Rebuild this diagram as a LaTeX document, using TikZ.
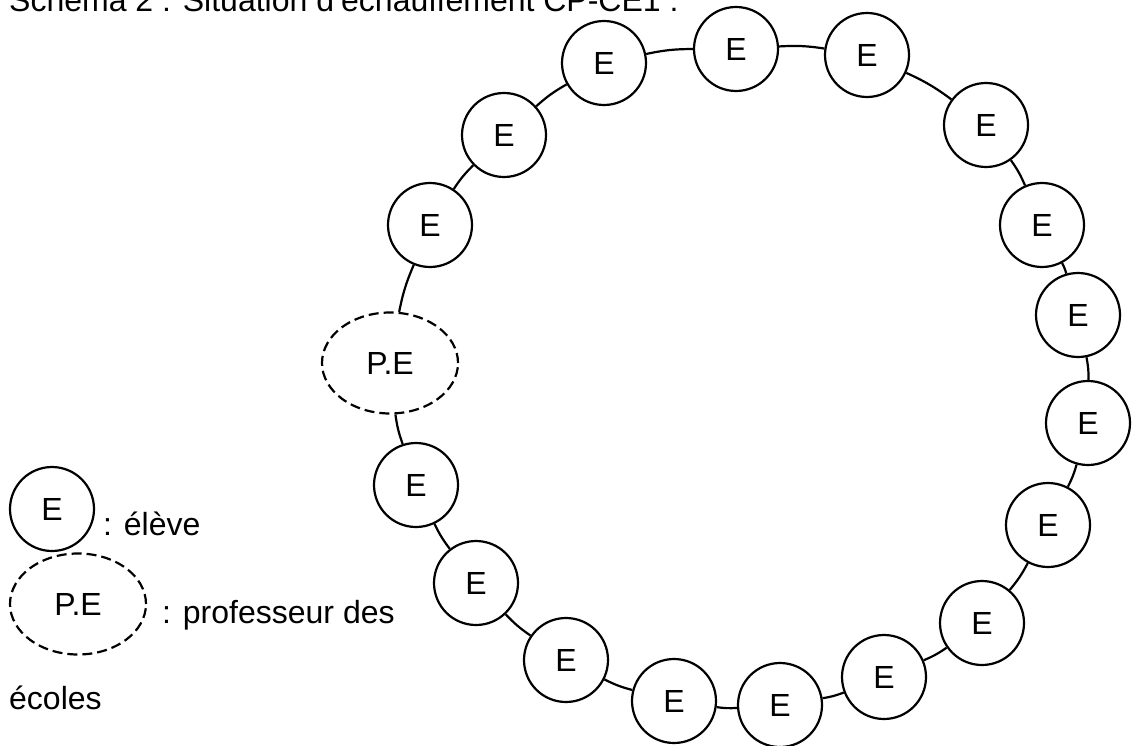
\documentclass[tikz,border=0pt]{standalone}
\usepackage{fontspec}
\setmainfont{Liberation Sans}
\usetikzlibrary{shapes.geometric}
\tikzset{
  eleve/.style={circle,draw,line width=2.2pt,minimum size=84pt,inner sep=0pt,font=\fontsize{32}{38}\selectfont},
  prof/.style={ellipse,draw,line width=2.2pt,dash pattern=on 10pt off 5pt,minimum width=136pt,minimum height=101pt,inner sep=0pt,font=\fontsize{32}{38}\selectfont},
  lbl/.style={anchor=base west,inner sep=0pt,font=\fontsize{32}{38}\selectfont},
  link/.style={line width=2.2pt}
}
\begin{document}
\begin{tikzpicture}[x=1pt,y=-1pt]
\useasboundingbox (0,0) rectangle (1134,746);
\begin{scope}
\clip (0,0) rectangle (1134,746);
\node[lbl] (title) at (9,12) {Schéma 2 : Situation d'échauffement CP-CE1 :};
\end{scope}
% ring
\node[prof] (pe) at (390,363) {P.E};
\node[eleve] (e17) at (430,225) {E};
\node[eleve] (e18) at (504,135) {E};
\node[eleve] (e1) at (604,63) {E};
\node[eleve] (e2) at (736,49) {E};
\node[eleve] (e3) at (867,55) {E};
\node[eleve] (e4) at (986,125) {E};
\node[eleve] (e5) at (1042,225) {E};
\node[eleve] (e6) at (1078,315) {E};
\node[eleve] (e7) at (1088,423) {E};
\node[eleve] (e8) at (1048,525) {E};
\node[eleve] (e9) at (982,623) {E};
\node[eleve] (e10) at (884,677) {E};
\node[eleve] (e11) at (780,705) {E};
\node[eleve] (e12) at (674,701) {E};
\node[eleve] (e13) at (566,660) {E};
\node[eleve] (e14) at (476,583) {E};
\node[eleve] (e15) at (416,485) {E};
\foreach \a/\b in {pe/e17,e17/e18,e18/e1,e1/e2,e2/e3,e3/e4,e4/e5,e5/e6,e6/e7,e7/e8,e8/e9,e9/e10,e10/e11,e11/e12,e12/e13,e13/e14,e14/e15,e15/pe}
  \draw[link] (\a) to[bend left=6] (\b);
% legend
\node[eleve] (le) at (52,509) {E};
\node[prof] (lpe) at (78,604) {P.E};
\node[lbl] (t1) at (103,535) {: élève};
\node[lbl] (t2) at (162,623) {: professeur des};
\node[lbl] (t3) at (9,709) {écoles};
\end{tikzpicture}
\end{document}
